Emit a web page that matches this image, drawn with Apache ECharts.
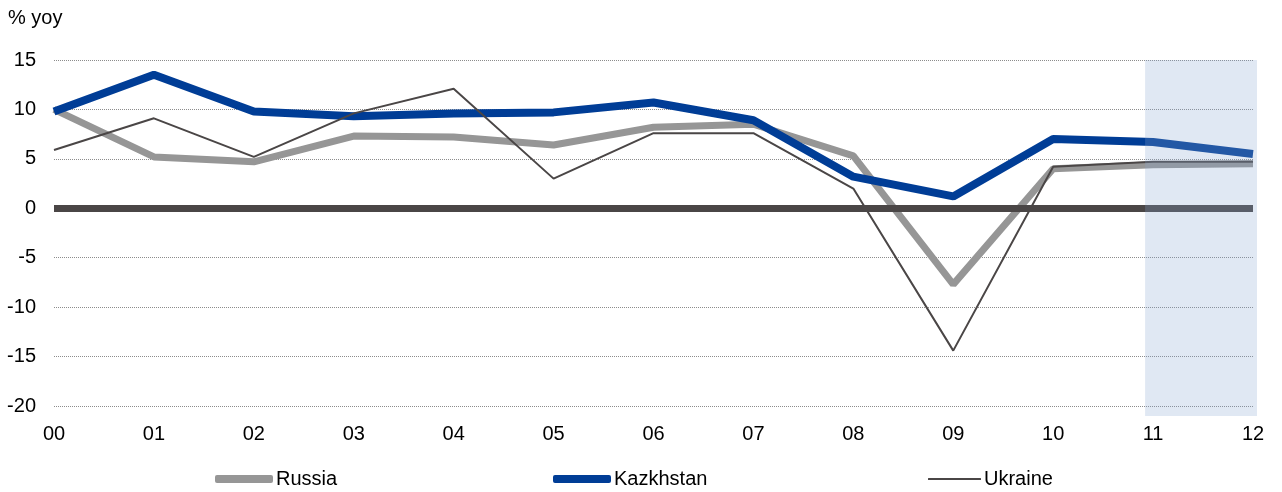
<!DOCTYPE html>
<html>
<head>
<meta charset="utf-8">
<script src="https://cdn.jsdelivr.net/npm/echarts@6/dist/echarts.min.js"></script>
<style>
  html, body { margin: 0; padding: 0; background: #fff; }
  #chart { width: 1282px; height: 492px; }
</style>
</head>
<body>
<div id="chart"></div>
<script>
  // data
  var years = ["00", "01", "02", "03", "04", "05", "06", "07", "08", "09", "10", "11", "12"];
  var russia = [10.0, 5.2, 4.7, 7.3, 7.2, 6.4, 8.2, 8.5, 5.3, -7.7, 4.0, 4.4, 4.5];
  var kazakhstan = [9.8, 13.5, 9.8, 9.3, 9.6, 9.7, 10.7, 8.9, 3.2, 1.2, 7.0, 6.7, 5.5];
  var ukraine = [5.9, 9.1, 5.2, 9.6, 12.1, 3.0, 7.6, 7.6, 2.0, -14.4, 4.2, 4.7, 4.7];
  var forecastFrom = "11";
  var forecastTo = "12";

  var myChart = echarts.init(document.getElementById("chart"));
  var font = "Liberation Sans, Arial, sans-serif";
  var fs = 20;

  //图例分开放
  function legendAt(left, name, w, h) {
    return {
      left: left,
      top: 469,
      padding: 0,
      itemWidth: w,
      itemHeight: h,
      itemGap: 0,
      icon: "roundRect",
      data: [name],
      textStyle: { fontFamily: font, fontSize: fs, color: "#000", padding: [0, 0, 0, -2] },
    };
  }

  var option = {
    animation: false,
    textStyle: { fontFamily: font },
    title: {
      text: "% yoy",
      left: 8,
      top: 8,
      padding: 0,
      textStyle: { fontFamily: font, fontSize: fs, fontWeight: "normal", color: "#000" },
    },
    legend: [
      legendAt(215, "Russia", 58, 8),
      legendAt(553, "Kazkhstan", 58, 8),
      legendAt(928, "Ukraine", 53, 2),
    ],
    grid: { left: 54, right: 29, top: 60, bottom: 86, containLabel: false },
    xAxis: {
      type: "category",
      data: years,
      boundaryGap: false,
      axisLine: { show: false },
      axisTick: { show: false },
      axisLabel: { color: "#000", fontSize: fs, fontFamily: font, margin: 18 },
    },
    yAxis: {
      type: "value",
      min: -20,
      max: 15,
      interval: 5,
      axisLine: { show: false },
      axisTick: { show: false },
      axisLabel: { color: "#000", fontSize: fs, fontFamily: font, margin: 18 },
      splitLine: { lineStyle: { color: "#8c8c8c", type: "dotted", width: 1 } },
    },
    series: [
      {
        // 0线
        type: "line",
        data: [],
        z: 1,
        markLine: {
          silent: true,
          symbol: "none",
          label: { show: false },
          lineStyle: { color: "#4a4646", width: 7, type: "solid" },
          data: [{ yAxis: 0 }],
        },
      },
      {
        name: "Russia",
        type: "line",
        data: russia,
        showSymbol: false,
        z: 2,
        color: "#969696",
        lineStyle: { color: "#969696", width: 7 },
      },
      {
        name: "Kazkhstan",
        type: "line",
        data: kazakhstan,
        showSymbol: false,
        z: 3,
        color: "#003d96",
        lineStyle: { color: "#003d96", width: 8 },
      },
      {
        name: "Ukraine",
        type: "line",
        data: ukraine,
        showSymbol: false,
        z: 4,
        color: "#4a4646",
        lineStyle: { color: "#4a4646", width: 2 },
      },
    ],
  };

  myChart.setOption(option);

  // 预测区域阴影 (盖在线上面)
  var x0 = myChart.convertToPixel({ xAxisIndex: 0 }, forecastFrom);
  var x1 = myChart.convertToPixel({ xAxisIndex: 0 }, forecastTo);
  var yTop = myChart.convertToPixel({ yAxisIndex: 0 }, 15);
  var yBot = myChart.convertToPixel({ yAxisIndex: 0 }, -20);
  myChart.setOption({
    graphic: [
      {
        type: "rect",
        z: 100,
        silent: true,
        shape: { x: x0 - 8, y: yTop, width: x1 - x0 + 12, height: yBot - yTop + 10 },
        style: { fill: "rgba(136,166,208,0.26)" },
      },
    ],
  });
</script>
</body>
</html>
